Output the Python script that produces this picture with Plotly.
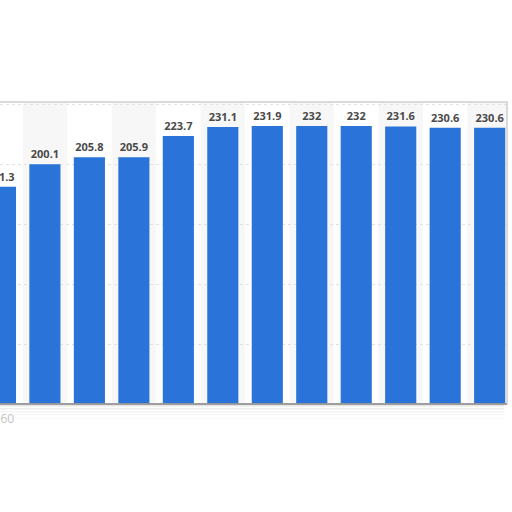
import plotly.graph_objects as go

years = [str(y) for y in range(1960, 1972)]
values = [181.3, 200.1, 205.8, 205.9, 223.7, 231.1, 231.9, 232, 232, 231.6, 230.6, 230.6]
value_labels = ["181.3", "200.1", "205.8", "205.9", "223.7", "231.1",
                "231.9", "232", "232", "231.6", "230.6", "230.6"]
shown_ticks = ["1960"]

fig = go.Figure(
    data=go.Bar(
        x=years,
        y=values,
        text=value_labels,
        textposition="outside",
        cliponaxis=False,
        marker=dict(color="#2a74d9", line=dict(width=0)),
        textfont=dict(family="Open Sans", size=11, color="#4a4a4a", weight="bold"),
    )
)

# faint alternating column bands
shapes = []
for i in range(1, len(years), 2):
    shapes.append(dict(type="rect", xref="x", yref="paper", x0=i - 0.5, x1=i + 0.5,
                       y0=0, y1=1, fillcolor="#f7f7f7", line=dict(width=0), layer="below"))

# card frame and soft shadow under it
shapes.append(dict(type="rect", xref="paper", yref="paper", x0=-0.01, x1=1.0, y0=0, y1=1,
                   line=dict(color="#cfcfcf", width=1.5), layer="above"))
for k, op in enumerate([0.2, 0.14, 0.09, 0.06, 0.03]):
    shapes.append(dict(type="rect", xref="paper", yref="paper", x0=0.0, x1=0.995,
                       y0=-0.008 - k * 0.01, y1=-0.003 - k * 0.01,
                       fillcolor="#808080", opacity=op, line=dict(width=0), layer="below"))
shapes.append(dict(type="line", xref="paper", yref="paper", x0=0, x1=1, y0=0, y1=0,
                   line=dict(color="#8a8a8a", width=1.5), layer="above"))

fig.update_layout(
    width=512,
    height=512,
    margin=dict(l=0, r=5, t=102, b=108),
    paper_bgcolor="white",
    plot_bgcolor="white",
    bargap=0.3,
    showlegend=False,
    shapes=shapes,
)
fig.update_xaxes(
    range=[-0.01, 11.39],
    automargin=False,
    tickvals=shown_ticks,
    tickfont=dict(family="Open Sans", size=12, color="#c4c4c4"),
    ticklabelstandoff=6,
    showgrid=False,
    showline=False,
    ticks="",
)
fig.update_yaxes(
    range=[0, 252],
    automargin=False,
    dtick=50,
    showticklabels=False,
    showgrid=True,
    gridcolor="#e2e2e2",
    griddash="dot",
    gridwidth=1,
    zeroline=False,
)

# drop the browser's default body margin so the figure sits at the page corner
fig.write_html("out.html", config={"displayModeBar": False},
               post_script="document.body.style.margin = '0';")
